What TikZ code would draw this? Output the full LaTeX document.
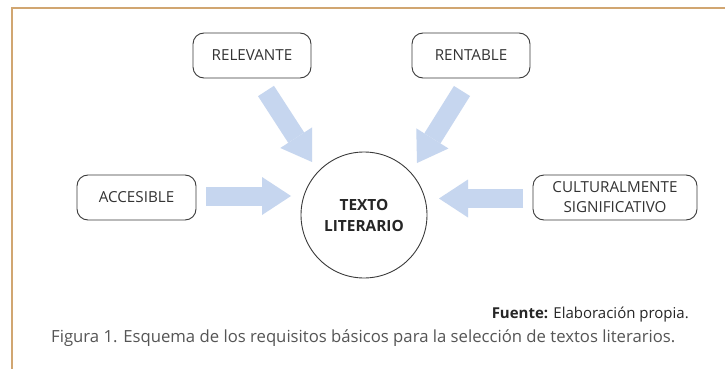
\documentclass[tikz,border=0pt]{standalone}
\usepackage{fontspec}
\setmainfont{Open Sans}
\usetikzlibrary{arrows.meta}
\definecolor{frame}{HTML}{D1A671}
\definecolor{arrowblue}{HTML}{C6D6EF}
\definecolor{boxline}{HTML}{3A3A3A}
\definecolor{boxtext}{HTML}{333333}
\definecolor{captext}{HTML}{555555}
\tikzset{
  reqbox/.style={draw=boxline, line width=0.9pt, rounded corners=11pt, minimum height=45pt, inner sep=0pt,
    text=boxtext, font=\fontsize{15.2}{20}\selectfont, align=center},
  bigarrow/.style={draw=arrowblue, line width=19pt, line cap=butt,
    -{Triangle[width=38pt,length=29pt,line width=0pt]}},
}
\begin{document}
\begin{tikzpicture}[x=1pt,y=-1pt]
\useasboundingbox (0,0) rectangle (725,369);
\fill[white] (0,0) rectangle (725,369);
% frame
\draw[frame, line width=2.2pt] (11.8,369) -- (11.8,7.8) -- (725,7.8);
% boxes
\node[reqbox, minimum width=118pt] (rel) at (252,55.5) {RELEVANTE};
\node[reqbox, minimum width=118pt] (ren) at (471,55.5) {RENTABLE};
\node[reqbox, minimum width=119pt] (acc) at (136.5,197.5) {ACCESIBLE};
\node[reqbox, minimum width=164pt] (cul) at (615,197.5) {CULTURALMENTE\\SIGNIFICATIVO};
% centre
\node[draw=boxline, line width=0.9pt, circle, minimum size=126pt, inner sep=0pt, align=center,
  font=\bfseries\fontsize{15.4}{21}\selectfont, text=black!85] (tl) at (364,215) {TEXTO\\LITERARIO};
% arrow end points
\coordinate (a1) at (206,196);   \coordinate (a2) at (291,196);
\coordinate (c1) at (523,198.5); \coordinate (c2) at (439,198.5);
\coordinate (r1) at (266,91);    \coordinate (r2) at (312,162);
\coordinate (t1) at (462,91);    \coordinate (t2) at (417,163);
\draw[bigarrow] (a1) -- (a2);
\draw[bigarrow] (c1) -- (c2);
\draw[bigarrow] (r1) -- (r2);
\draw[bigarrow] (t1) -- (t2);
% captions
\node[anchor=base east, inner sep=0pt, font=\fontsize{15}{17}\selectfont, text=black!85] (src) at (689,318)
  {\textbf{Fuente:} Elaboración propia.};
\node[anchor=base west, inner sep=0pt, font=\fontsize{16.7}{19}\selectfont, text=captext] (cap) at (51,342)
  {Figura 1. Esquema de los requisitos básicos para la selección de textos literarios.};
\end{tikzpicture}
\end{document}
